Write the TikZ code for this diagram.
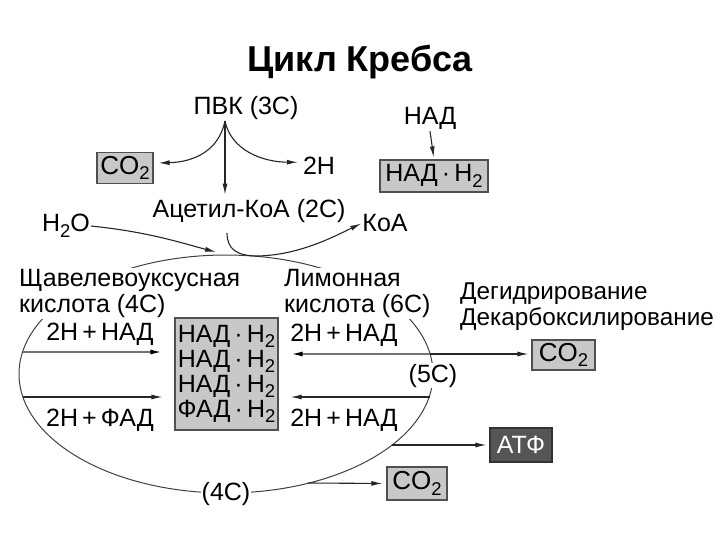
\documentclass[tikz,border=0pt]{standalone}
\usepackage{fontspec}
\setmainfont{Liberation Sans}
\usetikzlibrary{arrows.meta}
\definecolor{boxfill}{RGB}{200,200,200}
\definecolor{boxline}{RGB}{80,80,80}
\definecolor{atpfill}{RGB}{85,85,85}
\definecolor{linegray}{RGB}{115,115,115}
\newcommand{\lowtwo}{\raisebox{-0.22em}{\fontsize{18.5}{18.5}\selectfont 2}}
\begin{document}
\begin{tikzpicture}[x=1pt,y=-1pt,
  every node/.style={inner sep=1pt},
  lbl/.style={font=\fontsize{25}{26}\selectfont},
  gbox/.style={lbl, draw=boxline, fill=boxfill, line width=1.2pt, inner sep=1.5pt},
  arr/.style={-{Latex[length=11pt,width=5pt]}, line width=1.1pt, draw=black!85},
  garr/.style={-{Latex[length=12pt,width=5pt,color=black]}, line width=1.8pt, draw=linegray},
  cyc/.style={line width=1pt, draw=black!75},
  mask/.style={fill=white}
]
\useasboundingbox (0,0) rectangle (720,540);

\node[font=\fontsize{36}{40}\selectfont\bfseries, anchor=base] (title) at (360,72) {Цикл Кребса};

% top part
\node[lbl, anchor=base] (pvk) at (246,115) {ПВК (3С)};
\coordinate (pvkout) at (225,121);
\node[gbox, font=\fontsize{26}{26}\selectfont, minimum width=56pt, minimum height=31pt] (co2a) at (125,168) {CO\lowtwo};
\node[lbl, anchor=base] (h2) at (319,175) {2H};
\node[lbl, anchor=base] (acetyl) at (249,218) {Ацетил-КоА (2С)};

\node[lbl, anchor=base] (nad) at (430,125) {НАД};
\node[gbox, minimum width=108pt, minimum height=32pt] (nadh) at (434,176) {НАД\,·\,H\lowtwo};

\node[lbl, anchor=base] (h2o) at (66,232) {H\lowtwo O};
\node[lbl, anchor=base] (koa) at (385,232) {КоА};

% cycle
\draw[cyc] (226,374) ellipse [x radius=207pt, y radius=119pt];

\node[lbl, mask, align=left, anchor=north west] (oxa) at (18,268) {Щавелевоуксусная\\кислота (4С)};
\node[lbl, mask, align=left, anchor=north west] (cit) at (283,268) {Лимонная\\кислота (6С)};
\node[font=\fontsize{24.3}{26}\selectfont, align=left, anchor=north west] (proc) at (459,282) {Дегидрирование\\Декарбоксилирование};

\node[gbox, align=center, minimum width=103pt, minimum height=112pt, font=\fontsize{25}{25}\selectfont] (nadbox) at (226.5,374) {НАД\,·\,H\lowtwo\\НАД\,·\,H\lowtwo\\НАД\,·\,H\lowtwo\\ФАД\,·\,H\lowtwo};

\node[lbl, anchor=base] (l1) at (100,340) {2H\,+\,НАД};
\node[lbl, anchor=base] (l2) at (100,426) {2H\,+\,ФАД};
\node[lbl, anchor=base] (r1) at (344,341) {2H\,+\,НАД};
\node[lbl, anchor=base] (r2) at (344,426) {2H\,+\,НАД};
\node[lbl, mask, anchor=base] (c5) at (433,382) {(5С)};
\node[lbl, mask, anchor=base] (c4) at (226,500) {(4С)};

\node[gbox, font=\fontsize{26}{26}\selectfont, minimum width=63pt, minimum height=30pt] (co2b) at (563.5,355) {CO\lowtwo};
\node[gbox, draw=black!80, fill=atpfill, text=white, minimum width=62pt, minimum height=34pt] (atp) at (521,445) {АТФ};
\node[gbox, font=\fontsize{26}{26}\selectfont, minimum width=60pt, minimum height=33pt] (co2c) at (417,483.5) {CO\lowtwo};

% points on the cycle
\coordinate (e1) at (23,352);
\coordinate (e2) at (23,397);
\coordinate (e3) at (430,354);
\coordinate (e4) at (430,397);
\coordinate (e5) at (392,445);
\coordinate (e6) at (308,483);
\coordinate (jin) at (216,252);
\coordinate (acout) at (227,233);

% connectors
\draw[arr, shorten >=4pt] (pvkout) -- (pvkout |- acetyl.north);
\draw[arr] (pvkout) .. controls (219,150) and (195,162) .. ([xshift=5pt,yshift=5pt]co2a.east);
\draw[arr] (pvkout) .. controls (231,150) and (262,162) .. ([xshift=-4pt,yshift=4pt]h2.west);
\draw[arr, shorten >=2pt] (nad.south) -- (nadh.north);
\draw[arr] (h2o.east) .. controls (150,232) and (185,244) .. (jin);
\draw[arr] (acout) .. controls (227,250) and (238,256) .. (258,256) .. controls (300,255) and (335,236) .. (koa.west);

\draw[garr, shorten >=12pt] (e1) -- (e1 -| nadbox.west);
\draw[arr, shorten >=12pt] (e2) -- (e2 -| nadbox.west);
\draw[garr, shorten >=12pt] (e3) -- (e3 -| nadbox.east);
\draw[arr, shorten >=12pt] (e4) -- (e4 -| nadbox.east);
\draw[arr, shorten >=3pt] (e3) -- (e3 -| co2b.west);
\draw[arr, shorten >=3pt] (e5) -- (atp.west);
\draw[arr, shorten >=4pt] (e6) -- (co2c.west);
\end{tikzpicture}
\end{document}
